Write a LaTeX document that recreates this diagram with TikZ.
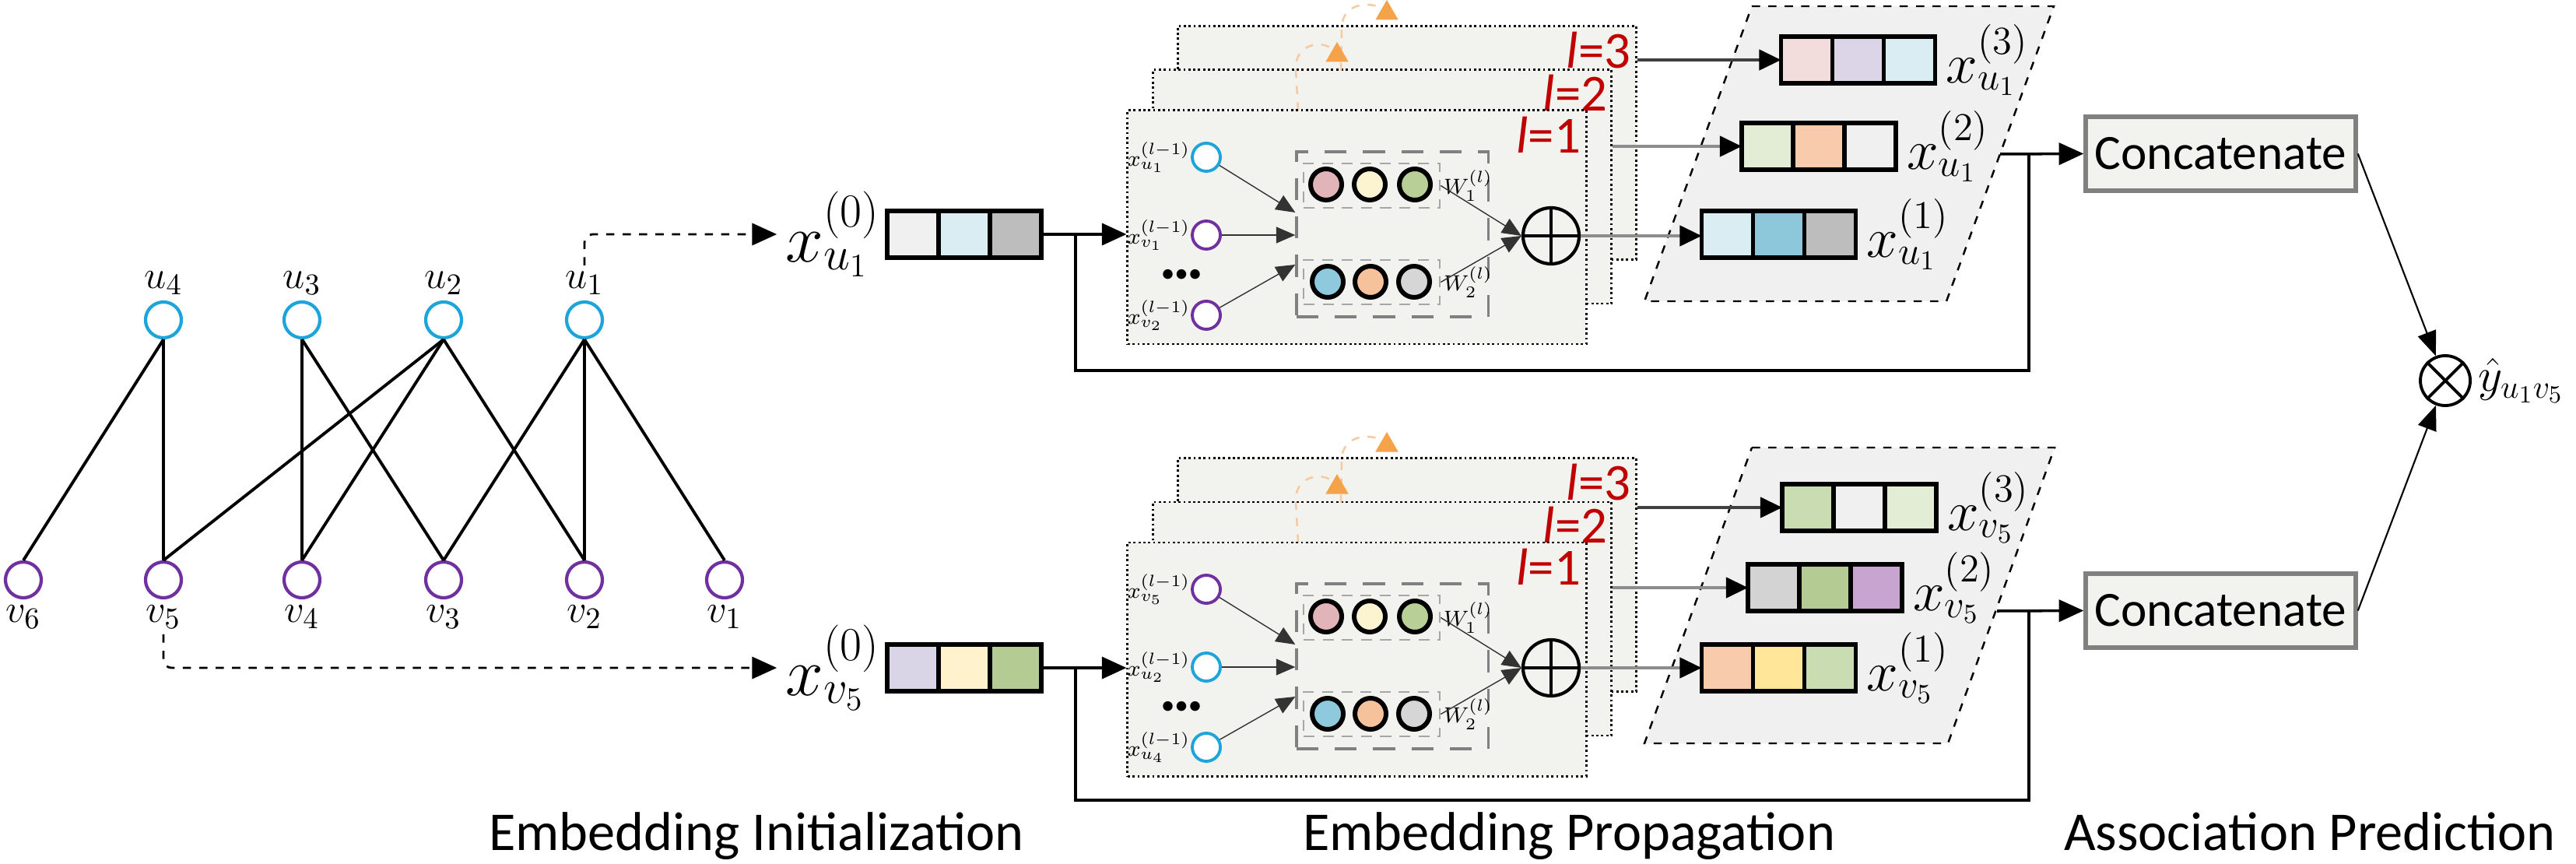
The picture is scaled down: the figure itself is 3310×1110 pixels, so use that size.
\documentclass[tikz,border=0pt]{standalone}
\usepackage{fontspec}
\setmainfont{Carlito}
\usepackage{amsmath}
\usetikzlibrary{positioning,arrows.meta,shapes.geometric,calc}
\definecolor{ucyan}{HTML}{1DA5DB}
\definecolor{vpurple}{HTML}{7030A0}
\definecolor{laytext}{HTML}{C00000}
\definecolor{layfill}{HTML}{F2F2EE}
\definecolor{parafill}{HTML}{F0F0F0}
\definecolor{catborder}{HTML}{808080}
\definecolor{linegray}{HTML}{8C8C8C}
\definecolor{orangehead}{HTML}{F4A34B}
\definecolor{orangeline}{HTML}{F6C9A0}
% embedding cells
\definecolor{cgray}{HTML}{F0F0F0}
\definecolor{cblue}{HTML}{DAEDF3}
\definecolor{cdark}{HTML}{BDBDBD}
\definecolor{clav}{HTML}{D9D5E6}
\definecolor{cyel}{HTML}{FFF2CC}
\definecolor{cgreen}{HTML}{B4CC94}
\definecolor{cpink}{HTML}{F2DDDC}
\definecolor{clilac}{HTML}{DBD5E7}
\definecolor{cpgreen}{HTML}{E3EDD6}
\definecolor{cpeach}{HTML}{F8CBAD}
\definecolor{cteal}{HTML}{8CC8D9}
\definecolor{cmgreen}{HTML}{C9DCB2}
\definecolor{cpurp}{HTML}{C8A5D0}
\definecolor{cyellow}{HTML}{FFE699}
\definecolor{csilver}{HTML}{D3D3D3}
% neurons
\definecolor{npink}{HTML}{E0B4B8}
\definecolor{nyel}{HTML}{FCF3D0}
\definecolor{ngreen}{HTML}{B8D098}
\definecolor{nblue}{HTML}{8EC9DE}
\definecolor{npeach}{HTML}{F5C29C}
\definecolor{ngray}{HTML}{D6D6D6}
\tikzset{
  unode/.style={circle, draw=ucyan, line width=1.2pt, minimum size=0.46cm, inner sep=0, fill=white},
  vnode/.style={circle, draw=vpurple, line width=1.2pt, minimum size=0.46cm, inner sep=0, fill=white},
  glabel/.style={font=\fontsize{15}{18}\selectfont, inner sep=2pt},
  gedge/.style={line width=1.1pt},
  dasharrow/.style={
    -{Triangle[length=9pt,width=8pt]}, dashed, line width=0.8pt, rounded corners=3pt, shorten >=2pt
  },
  embvec/.style n args={3}{
    draw, line width=1.6pt, minimum width=1.98cm, minimum height=0.6cm, inner sep=0, outer sep=0,
    path picture={
      \fill[#1] (path picture bounding box.south west) rectangle ([xshift=0.66cm]path picture bounding box.north west);
      \fill[#2] ([xshift=0.66cm]path picture bounding box.south west) rectangle ([xshift=1.32cm]path picture bounding box.north west);
      \fill[#3] ([xshift=1.32cm]path picture bounding box.south west) rectangle (path picture bounding box.north east);
      \draw[line width=1.6pt] ([xshift=0.66cm]path picture bounding box.south west) -- ([xshift=0.66cm]path picture bounding box.north west);
      \draw[line width=1.6pt] ([xshift=1.32cm]path picture bounding box.south west) -- ([xshift=1.32cm]path picture bounding box.north west);
    }
  },
  biglabel/.style={font=\fontsize{23}{26}\selectfont, inner sep=1pt},
  vlabel/.style={font=\fontsize{20}{22}\selectfont, inner sep=1pt},
  mainline/.style={line width=1pt},
  mainarrow/.style={mainline, -{Triangle[length=9pt,width=8pt]}},
  layerbox/.style={draw, densely dotted, line width=0.8pt, fill=layfill, minimum width=5.89cm, minimum height=3.0cm},
  laylabel/.style={text=laytext, font=\fontsize{19}{20}\selectfont, inner sep=0, anchor=north east},
  orangedash/.style={draw=orangeline, dashed, line width=0.7pt},
  orangetri/.style={regular polygon, regular polygon sides=3, fill=orangehead, minimum size=0.34cm, inner sep=0},
  innode/.style={circle, line width=1.1pt, minimum size=0.36cm, inner sep=0, fill=white},
  inlabel/.style={font=\fontsize{8.5}{10}\selectfont, inner sep=0},
  wgroup/.style={draw=catborder, dash pattern=on 8pt off 6pt, line width=0.9pt, minimum width=2.46cm, minimum height=2.12cm},
  wbox/.style={draw=black!35, dash pattern=on 4pt off 3pt, line width=0.7pt, minimum width=1.75cm, minimum height=0.57cm},
  neuron/.style={circle, draw, line width=1.7pt, minimum size=0.40cm, inner sep=0},
  wlabel/.style={font=\fontsize{8.5}{10}\selectfont, inner sep=0},
  inarrow/.style={-{Triangle[length=7pt,width=6pt]}, line width=0.4pt, draw=black!80},
  plusnode/.style={circle, draw, line width=1.2pt, minimum size=0.72cm, inner sep=0},
  outarrow/.style={-{Triangle[length=8pt,width=7.5pt,color=black]}, line width=1pt, draw=linegray},
  para/.style={draw, dashed, fill=parafill, line width=0.7pt},
  catbox/.style={draw=catborder, line width=1.6pt, fill=layfill, minimum width=3.41cm, minimum height=0.95cm,
    font=\fontsize{18}{20}\selectfont},
  prodnode/.style={circle, draw, line width=1.1pt, minimum size=0.64cm, inner sep=0},
  predarrow/.style={-{Triangle[length=9pt,width=7pt]}, line width=0.6pt},
  sectitle/.style={font=\fontsize{20}{24}\selectfont, anchor=base}
}

\begin{document}
\begin{tikzpicture}[x=0.01cm, y=-0.01cm]
  \useasboundingbox (0,0) rectangle (3310,1110);

  % Bipartite graph
  \foreach \n/\x in {4/210, 3/388, 2/570, 1/751}
    \node[unode, label={[glabel, name=ul\n]above:$u_\n$}] (u\n) at (\x,411) {};
  \foreach \n/\x in {6/30, 5/210, 4/388, 3/570, 2/751, 1/931}
    \node[vnode, label={[glabel, name=vl\n]below:$v_\n$}] (v\n) at (\x,745) {};
  \foreach \a/\b in {u4/v6, u4/v5, u3/v4, u3/v3, u2/v5, u2/v4, u2/v2, u1/v3, u1/v2, u1/v1}
    \draw[gedge] (\a.south) -- (\b.north);

  % Initial embeddings
  \node[embvec={cgray}{cblue}{cdark}] (x0u) at (1239,301) {};
  \node[embvec={clav}{cyel}{cgreen}] (x0v) at (1239,858) {};
  \node[biglabel, left=0.05cm of x0u] (x0ul) {$x_{u_1}^{(0)}$};
  \node[biglabel, left=0.05cm of x0v] (x0vl) {$x_{v_5}^{(0)}$};
  \draw[dasharrow] (ul1.north) |- (x0ul.west);
  \draw[dasharrow] (vl5.south) |- (x0vl.west);

  % Layer outputs
  \draw[para] (2251,8) -- (2639,8) -- (2501,387) -- (2113,387) -- cycle;
  \draw[para] (2251,575) -- (2640,575) -- (2503,955) -- (2113,955) -- cycle;
  \node[embvec={cpink}{clilac}{cblue}] (o3u) at (2387.5,77) {};
  \node[embvec={cpgreen}{cpeach}{cgray}] (o2u) at (2337,188) {};
  \node[embvec={cblue}{cteal}{cdark}] (o1u) at (2285.5,301) {};
  \node[embvec={cmgreen}{cgray}{cpgreen}] (o3v) at (2389,652) {};
  \node[embvec={csilver}{cgreen}{cpurp}] (o2v) at (2345,755) {};
  \node[embvec={cpeach}{cyellow}{cmgreen}] (o1v) at (2285.5,858) {};
  \node[vlabel, right=0.1cm of o3u] (o3ul) {$x_{u_1}^{(3)}$};
  \node[vlabel, right=0.1cm of o2u] (o2ul) {$x_{u_1}^{(2)}$};
  \node[vlabel, right=0.1cm of o1u] (o1ul) {$x_{u_1}^{(1)}$};
  \node[vlabel, right=0.1cm of o3v] (o3vl) {$x_{v_5}^{(3)}$};
  \node[vlabel, right=0.1cm of o2v] (o2vl) {$x_{v_5}^{(2)}$};
  \node[vlabel, right=0.1cm of o1v] (o1vl) {$x_{v_5}^{(1)}$};

  % Prediction
  \node[catbox] (catu) at (2853.5,197.5) {Concatenate};
  \node[catbox] (catv) at (2853.5,784.5) {Concatenate};
  \node[prodnode] (ot) at (3142,489) {};
  \draw[line width=1.1pt] (ot.north east) -- (ot.south west) (ot.north west) -- (ot.south east);
  \node[vlabel, font=\fontsize{18}{20}\selectfont, right=0.04cm of ot] (yhat) {$\hat{y}_{u_1v_5}$};

  \coordinate (bru) at (1382,301);
  \coordinate (brv) at (1382,858);
  \coordinate (retu) at (2607,476);
  \coordinate (retv) at (2607,1028);
  \coordinate (ju) at (2607,198);
  \coordinate (jv) at (2607,785);
  \coordinate (pu) at (2570,198);
  \coordinate (pv) at (2566,785);

  % Propagation layers
  \foreach \side/\dy/\ia/\ib/\ic/\ca/\cb/\cc in
      {u/0/u_1/v_1/v_2/ucyan/vpurple/vpurple, v/555/v_5/u_2/u_4/vpurple/ucyan/ucyan} {
    \node[layerbox] (l3\side) at (1808,183.5+\dy) {};
    \node[laylabel] at ([shift={(-8,8)}]l3\side.north east) {\textit{l}=3};
    \node[layerbox] (l2\side) at (1776,240+\dy) {};
    \node[laylabel] at ([shift={(-6,7)}]l2\side.north east) {\textit{l}=2};
    \draw[orangedash] (1723,91+\dy) -- (1724,35+\dy) .. controls (1725,6+\dy) and (1755,2+\dy) .. (1772,9+\dy);
    \node[orangetri] at (1782,17+\dy) {};
    \draw[orangedash] (1668,142+\dy) -- (1665,90+\dy) .. controls (1663,56+\dy) and (1698,52+\dy) .. (1710,62+\dy);
    \node[orangetri] at (1718,71+\dy) {};
    \node[layerbox] (l1\side) at (1743.5,292+\dy) {};
    \node[laylabel] at ([shift={(-8,9)}]l1\side.north east) {\textit{l}=1};

    % inputs
    \node[innode, draw=\ca, label={[inlabel]left:$x_{\ia}^{(l-1)}$}] (ia\side) at (1550,202+\dy) {};
    \node[innode, draw=\cb, label={[inlabel]left:$x_{\ib}^{(l-1)}$}] (ib\side) at (1550,302+\dy) {};
    \node[font=\fontsize{10}{10}\selectfont] (dots\side) at (1518,354+\dy) {\textbullet\textbullet\textbullet};
    \node[innode, draw=\cc, label={[inlabel]left:$x_{\ic}^{(l-1)}$}] (ic\side) at (1550,405+\dy) {};

    % weights
    \node[wgroup] (wg\side) at (1789,301+\dy) {};
    \node[wbox] (wa\side) at (1762.5,238.5+\dy) {};
    \node[wbox] (wb\side) at (1762.5,362.5+\dy) {};
    \node[neuron, fill=npink] (na1\side) at (1704,237+\dy) {};
    \node[neuron, fill=nyel] (na2\side) at (1760,237+\dy) {};
    \node[neuron, fill=ngreen] (na3\side) at (1818,237+\dy) {};
    \node[neuron, fill=nblue] (nb1\side) at (1706,362+\dy) {};
    \node[neuron, fill=npeach] (nb2\side) at (1761,362+\dy) {};
    \node[neuron, fill=ngray] (nb3\side) at (1817,362+\dy) {};
    \node[wlabel, right=0.03cm of wa\side] (wal\side) {$W_1^{(l)}$};
    \node[wlabel, right=0.03cm of wb\side] (wbl\side) {$W_2^{(l)}$};
    \node[plusnode] (op\side) at (1993,303+\dy) {};
    \draw[line width=1.2pt] (op\side.north) -- (op\side.south) (op\side.west) -- (op\side.east);

    % arrows
    \draw[inarrow] (ia\side) -- ($(wg\side.west)+(0,-28)$);
    \draw[inarrow] (ib\side) -- (ib\side -| wg\side.west);
    \draw[inarrow] (ic\side) -- ($(wg\side.west)+(0,39)$);
    \draw[inarrow] (wa\side.east) -- (op\side.west);
    \draw[inarrow] (wb\side.east) -- (op\side.west);
    \draw[outarrow] (op\side.east) -- (op\side.east -| o1\side.west);
    \draw[outarrow] (o2\side.west -| l2\side.east) -- (o2\side.west);
    \draw[outarrow, draw=black!75] (o3\side.west -| l3\side.east) -- (o3\side.west);
    \draw[mainarrow] (x0\side.east) -- (x0\side.east -| l1\side.west);
    \draw[mainline] (br\side) |- (ret\side) -- (j\side);
    \draw[mainarrow] (p\side) -- (cat\side.west);
    \draw[predarrow] (cat\side.east) -- (ot);
  }

  % Stage titles
  \node[sectitle] (t1) at (972,1092) {Embedding Initialization};
  \node[sectitle] (t2) at (2016,1092) {Embedding Propagation};
  \node[sectitle] (t3) at (2968,1092) {Association Prediction};
\end{tikzpicture}
\end{document}
